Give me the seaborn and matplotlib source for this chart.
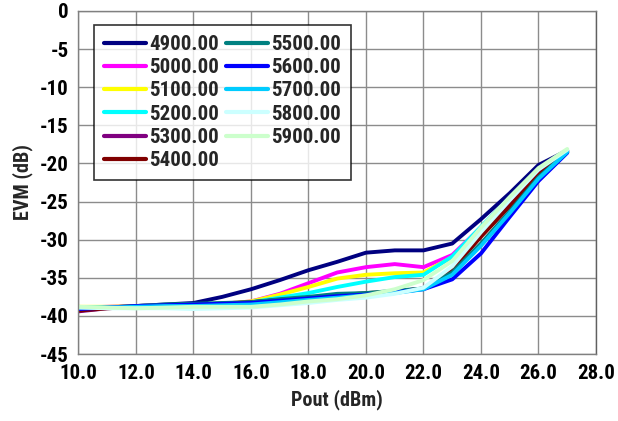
import matplotlib
matplotlib.use("Agg")
import matplotlib.pyplot as plt
import seaborn as sns
import pandas as pd
import numpy as np
from matplotlib.ticker import FormatStrFormatter
from matplotlib import font_manager

pout = [10, 11, 12, 13, 14, 15, 16, 17, 18, 19, 20, 21, 22, 23, 24, 25, 26, 27]

f4900 = [-39.2, -38.9, -38.7, -38.5, -38.3, -37.5, -36.5, -35.3, -34.0, -32.9, -31.7, -31.4, -31.4, -30.5, -27.3, -23.9, -20.2, -18.3]
f5000 = [-38.9, -38.8, -38.7, -38.6, -38.5, -38.4, -38.1, -37.1, -35.7, -34.3, -33.6, -33.2, -33.6, -32.0, -28.4, -24.6, -20.8, -18.4]
f5100 = [-38.8, -38.8, -38.7, -38.6, -38.5, -38.4, -38.1, -37.2, -36.2, -35.1, -34.6, -34.4, -34.3, -32.3, -28.6, -24.7, -20.9, -18.4]
f5200 = [-38.9, -38.9, -38.8, -38.7, -38.6, -38.5, -38.2, -37.6, -37.0, -36.2, -35.5, -34.9, -34.6, -32.2, -28.3, -24.5, -20.8, -18.3]
f5300 = [-39.4, -39.0, -38.8, -38.6, -38.5, -38.4, -38.2, -37.9, -37.6, -37.3, -37.1, -36.8, -36.4, -33.8, -29.5, -25.5, -21.4, -18.5]
f5400 = [-39.3, -39.0, -38.8, -38.6, -38.5, -38.4, -38.2, -37.9, -37.6, -37.3, -37.0, -36.8, -36.4, -33.9, -29.6, -25.6, -21.5, -18.5]
f5500 = [-39.0, -38.9, -38.7, -38.5, -38.4, -38.3, -38.2, -37.8, -37.5, -37.1, -37.0, -36.7, -36.4, -34.3, -30.5, -26.3, -21.8, -18.5]
f5600 = [-39.1, -38.9, -38.7, -38.6, -38.5, -38.4, -38.3, -38.0, -37.7, -37.4, -37.2, -36.9, -36.5, -35.2, -31.8, -27.0, -22.3, -18.6]
f5700 = [-38.9, -38.9, -38.8, -38.7, -38.7, -38.6, -38.5, -38.2, -37.9, -37.6, -37.3, -37.0, -36.5, -34.6, -30.8, -26.5, -22.0, -18.5]
f5800 = [-38.9, -39.0, -39.0, -39.0, -39.1, -39.0, -38.9, -38.6, -38.3, -37.9, -37.6, -37.1, -36.3, -33.5, -29.0, -24.8, -20.8, -18.2]
f5900 = [-38.8, -38.9, -39.0, -38.9, -38.8, -38.8, -38.8, -38.5, -38.1, -37.8, -37.3, -36.5, -35.3, -32.8, -28.4, -24.4, -20.6, -18.1]

labels = ["4900.00", "5000.00", "5100.00", "5200.00", "5300.00", "5400.00",
          "5500.00", "5600.00", "5700.00", "5800.00", "5900.00"]
series = [f4900, f5000, f5100, f5200, f5300, f5400, f5500, f5600, f5700, f5800, f5900]
colors = ["#000080", "#FF00FF", "#FFFF00", "#00FFFF", "#800080", "#800000",
          "#008080", "#0000FF", "#00CCFF", "#CCFFFF", "#CCFFCC"]

rows = []
for lab, vals in zip(labels, series):
    for xv, yv in zip(pout, vals):
        rows.append({"Pout": xv, "EVM": yv, "Freq": lab})
df = pd.DataFrame(rows)

sns.set_style("white")
available = {f.name for f in font_manager.fontManager.ttflist}
prefs = ['Roboto Condensed', 'DejaVu Sans Condensed', 'Liberation Sans Narrow',
         'Open Sans Condensed', 'Noto Sans Condensed', 'Roboto', 'DejaVu Sans']
fams = [p for p in prefs if p in available] or ['DejaVu Sans']
if 'DejaVu Sans' not in fams:
    fams.append('DejaVu Sans')
plt.rcParams['font.family'] = fams
plt.rcParams['font.weight'] = 'bold'

fig = plt.figure(figsize=(6.18, 4.21), dpi=100)
ax = fig.add_axes([0.127, 0.159, 0.9644 - 0.127, 0.9739 - 0.159])

sns.lineplot(data=df, x="Pout", y="EVM", hue="Freq", hue_order=labels,
             palette=dict(zip(labels, colors)), linewidth=2.8, ax=ax,
             estimator=None, sort=False)

ax.set_xlim(10, 28)
ax.set_ylim(-45, 0)
ax.set_xticks(np.arange(10, 28.01, 2))
ax.set_yticks(np.arange(-45, 0.01, 5))
ax.xaxis.set_major_formatter(FormatStrFormatter('%.1f'))
ax.yaxis.set_major_formatter(FormatStrFormatter('%d'))
ax.grid(True, color="#8c8c8c", linewidth=1.0)
ax.set_axisbelow(True)
for s in ax.spines.values():
    s.set_color("#808080")
    s.set_linewidth(1.0)
ax.spines['right'].set_color("#606060")
ax.tick_params(axis='both', direction='out', length=5, width=1, color="#808080",
               labelsize=15, pad=2, labelcolor='black')
for lbl in ax.get_xticklabels() + ax.get_yticklabels():
    lbl.set_fontweight('bold')

ax.set_xlabel("Pout (dBm)", fontsize=14.5, fontweight='bold', labelpad=5)
ax.set_ylabel("EVM (dB)", fontsize=14.5, fontweight='bold', labelpad=5)

leg = ax.legend(loc='upper left', bbox_to_anchor=(0.03, 0.96), ncol=2,
                fontsize=15, frameon=True, fancybox=False, handlelength=2.0,
                handletextpad=0.15, columnspacing=0.35, labelspacing=0.2,
                borderpad=0.5, borderaxespad=0.0)
leg.get_frame().set_edgecolor("black")
leg.get_frame().set_linewidth(1.2)
for t in leg.get_texts():
    t.set_fontweight('bold')
for h in leg.get_lines():
    h.set_linewidth(3)

fig.savefig("out.png", dpi=100)
